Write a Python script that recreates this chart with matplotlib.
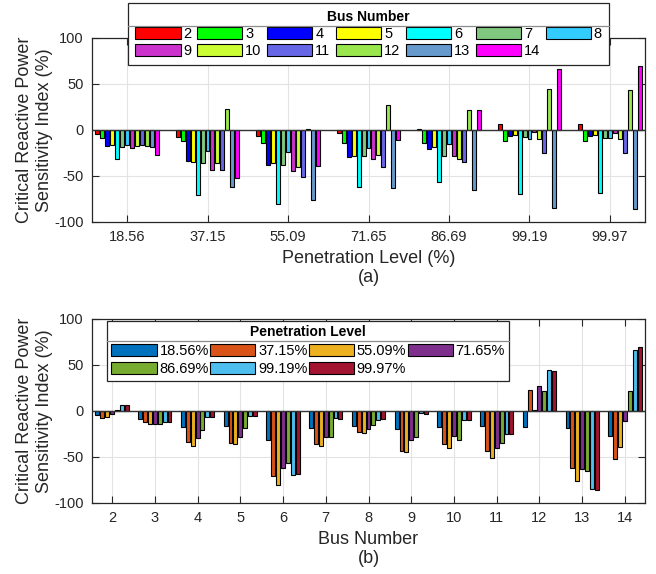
import numpy as np
import matplotlib
matplotlib.use('Agg')
import matplotlib.pyplot as plt
from matplotlib.patches import Patch
from matplotlib.lines import Line2D

plt.rcParams['font.family'] = ['Liberation Sans', 'DejaVu Sans']
plt.rcParams['axes.unicode_minus'] = False

# penetration levels (%) and bus numbers
levels = ['18.56', '37.15', '55.09', '71.65', '86.69', '99.19', '99.97']
buses = [2, 3, 4, 5, 6, 7, 8, 9, 10, 11, 12, 13, 14]

# sensitivity index per bus, one value per penetration level
bus2 = [-4, -8, -6, -3, 1, 6, 7]
bus3 = [-9, -12, -14, -14, -14, -12, -12]
bus4 = [-17, -34, -38, -29, -21, -7, -6]
bus5 = [-16, -35, -36, -28, -19, -5, -5]
bus6 = [-31, -71, -80, -62, -57, -70, -69]
bus7 = [-19, -36, -38, -28, -28, -8, -9]
bus8 = [-16, -23, -24, -20, -15, -10, -9]
bus9 = [-20, -44, -45, -32, -28, -2, -3]
bus10 = [-17, -36, -40, -27, -31, -10, -10]
bus11 = [-16, -43, -51, -40, -35, -25, -25]
bus12 = [-17, 23, 1, 27, 22, 45, 44]
bus13 = [-19, -62, -76, -63, -65, -85, -86]
bus14 = [-27, -52, -39, -11, 22, 66, 70]

sens = np.array([bus2, bus3, bus4, bus5, bus6, bus7, bus8, bus9, bus10,
                 bus11, bus12, bus13, bus14], dtype=float)

bus_colors = ['#ff0000', '#00ff00', '#0000ff', '#ffff00', '#00ffff', '#80c880',
              '#33ccff', '#cc33cc', '#ccff33', '#6666e6', '#99e64d', '#6699cc',
              '#ff00ff']
level_colors = ['#0072BD', '#D95319', '#EDB120', '#7E2F8E', '#77AC30',
                '#4DBEEE', '#A2142F']

W, H = 656, 574
fig = plt.figure(figsize=(W / 100, H / 100), dpi=100)

def px_axes(l, t, r, b):
    return fig.add_axes([l / W, 1 - b / H, (r - l) / W, (b - t) / H])

ax1 = px_axes(92, 38, 645, 222)
ax2 = px_axes(92, 319, 645, 503)


def grouped_bars(ax, x, data, colors):
    # data: rows = series, cols = groups (MATLAB-style grouped bar layout)
    nser, ngrp = data.shape
    gw = min(0.8, nser / (nser + 1.5))
    slot = gw / nser
    x = np.asarray(x, dtype=float)
    for i in range(nser):
        off = -gw / 2 + (i + 0.5) * slot
        ax.bar(x + off, data[i], width=slot * 0.8, color=colors[i],
               edgecolor='black', linewidth=0.8, zorder=3)
    ax.axhline(0, color='#333333', linewidth=1.0, zorder=4)


def style(ax):
    ax.set_ylim(-100, 100)
    ax.set_yticks([-100, -50, 0, 50, 100])
    ax.grid(True, color='#e3e3e3', linewidth=0.8, zorder=0)
    ax.set_axisbelow(True)
    ax.tick_params(direction='in', length=5, top=True, right=True,
                   labelsize=10.5, colors='#262626', pad=6)
    for s in ax.spines.values():
        s.set_color('#262626')
        s.set_linewidth(0.9)
    ax.set_ylabel('Critical Reactive Power\nSensitivity Index (%)',
                  fontsize=13, color='#262626', labelpad=1)


# (a) grouped by penetration level, one bar per bus
x1 = np.arange(1, len(levels) + 1)
grouped_bars(ax1, x1, sens, bus_colors)
style(ax1)
ax1.set_xlim(0.565, 7.435)
ax1.set_xticks(x1)
ax1.set_xticklabels(levels)
ax1.set_xlabel('Penetration Level (%)\n(a)', fontsize=13, color='#262626',
               labelpad=4, linespacing=1.2)

# (b) grouped by bus, one bar per penetration level
grouped_bars(ax2, buses, sens.T, level_colors)
style(ax2)
ax2.set_xlim(1.53, 14.47)
ax2.set_xticks(buses)
ax2.set_xticklabels([str(b) for b in buses])
ax2.set_xlabel('Bus Number\n(b)', fontsize=13, color='#262626',
               labelpad=4, linespacing=1.2)


def legend_box(handles, labels, ncol, left, top, title, colsp, bpad, lsp):
    leg = fig.legend(handles, labels, ncol=ncol, loc='upper left',
                     bbox_to_anchor=(left / W, 1 - top / H),
                     fontsize=10.5, title=title,
                     title_fontproperties={'weight': 'bold', 'size': 10},
                     frameon=True, fancybox=False, edgecolor='#262626',
                     framealpha=1, handlelength=3.1, handleheight=0.85,
                     handletextpad=0.2, columnspacing=colsp,
                     labelspacing=lsp, borderpad=bpad, borderaxespad=0)
    leg.get_frame().set_linewidth(0.9)
    leg.set_zorder(10)
    return leg


# bus legend, filled row-wise over 7 columns
bus_patches = [Patch(facecolor=c, edgecolor='black', linewidth=0.8) for c in bus_colors]
order = []
for c in range(7):
    order.append(c)
    if c + 7 < len(buses):
        order.append(c + 7)
leg1 = legend_box([bus_patches[i] for i in order], [str(buses[i]) for i in order],
                  7, 128, 3, 'Bus Number', 0.38, 0.5, 0.2)

lev_patches = [Patch(facecolor=c, edgecolor='black', linewidth=0.8) for c in level_colors]
order2 = []
for c in range(4):
    order2.append(c)
    if c + 4 < len(levels):
        order2.append(c + 4)
leg2 = legend_box([lev_patches[i] for i in order2], [levels[i] + '%' for i in order2],
                  4, 107, 321, 'Penetration Level', 0.08, 0.3, 0.3)

# separator line under each legend title
fig.canvas.draw()
r = fig.canvas.get_renderer()
for leg in (leg1, leg2):
    fb = leg.get_frame().get_window_extent(r)
    tb = leg.get_title().get_window_extent(r)
    y = tb.y0 - 2
    fig.add_artist(Line2D([fb.x0 / W, fb.x1 / W], [y / H, y / H],
                          transform=fig.transFigure, color='#8c8c8c',
                          linewidth=0.9, zorder=11))

fig.savefig('out.png', dpi=100)
